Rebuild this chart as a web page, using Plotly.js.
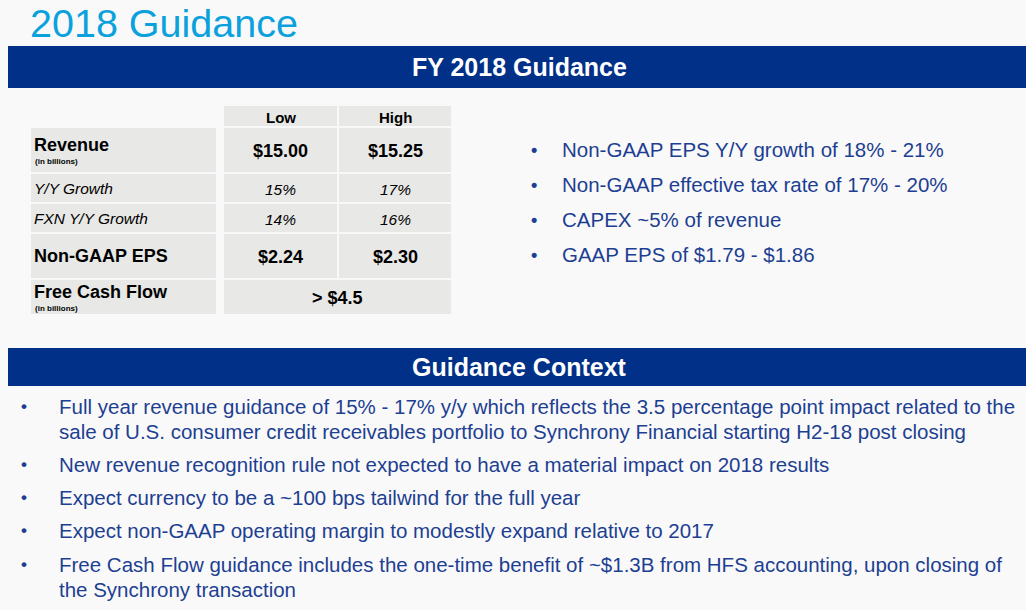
<!DOCTYPE html>
<html><head><meta charset="utf-8">
<script src="https://cdn.plot.ly/plotly-3.0.1.min.js"></script>
<style>html,body{margin:0;padding:0;background:#f9f9f9}#chart{width:1026px;height:610px}</style>
</head><body><div id="chart"></div>
<script>
// ---- content ----
const slideTitle = '2018 Guidance';
const sectionTitles = ['FY 2018 Guidance', 'Guidance Context'];
const columnHeaders = ['Low', 'High'];
const rowLabels = ['Revenue', 'Y/Y Growth', 'FXN Y/Y Growth', 'Non-GAAP EPS', 'Free Cash Flow'];
const rowNotes = ['(in billions)', '', '', '', '(in billions)'];
const lowValues = ['$15.00', '15%', '14%', '$2.24', '> $4.5'];
const highValues = ['$15.25', '17%', '16%', '$2.30', ''];
const guidanceBullets = [
  'Non-GAAP EPS Y/Y growth of 18% - 21%',
  'Non-GAAP effective tax rate of 17% - 20%',
  'CAPEX ~5% of revenue',
  'GAAP EPS of $1.79 - $1.86'
];
const contextBullets = [
  ['Full year revenue guidance of 15% - 17% y/y which reflects the 3.5 percentage point impact related to the',
   'sale of U.S. consumer credit receivables portfolio to Synchrony Financial starting H2-18 post closing'],
  ['New revenue recognition rule not expected to have a material impact on 2018 results'],
  ['Expect currency to be a ~100 bps tailwind for the full year'],
  ['Expect non-GAAP operating margin to modestly expand relative to 2017'],
  ['Free Cash Flow guidance includes the one-time benefit of ~$1.3B from HFS accounting, upon closing of',
   'the Synchrony transaction']
];

// ---- geometry & style ----
const FONT = 'Liberation Sans, Arial, sans-serif';
const NAVY = '#003087';
const TEXTBLUE = '#1d3f92';
const CELL = '#e8e8e6';
const rowTop = [128, 174, 204, 234, 280];
const rowBot = [172, 202, 232, 278, 314];
const rowBold = [true, false, false, true, true];
const rowSize = [18, 15.5, 15.5, 18, 18];
const colLabel = [31, 216], colLow = [224, 337], colHigh = [339, 451];
const headerY = [106, 126];
const guideY = [149.5, 184.5, 219.5, 254.5];
const ctxY = [[406, 431], [464], [497], [530], [564, 589]];

const shapes = [];
const ann = [];
function rect(x0, x1, y0, y1, color) {
  shapes.push({type: 'rect', xref: 'x', yref: 'y', x0, x1, y0, y1, fillcolor: color, line: {width: 0}, layer: 'below'});
}
function text(t, x, y, opt) {
  ann.push(Object.assign({text: t, x, y, xref: 'x', yref: 'y', showarrow: false,
    xanchor: 'left', yanchor: 'middle', font: {family: FONT, size: 18, color: '#000'}}, opt || {}));
}

// title
text(slideTitle, 28, 23, {font: {family: FONT, size: 39.5, color: '#0ba1dd'}});
// banners
rect(8, 1026, 46, 88, NAVY);
rect(8, 1026, 348, 386, NAVY);
text('<b>' + sectionTitles[0] + '</b>', 519, 67, {xanchor: 'center', font: {family: FONT, size: 25, color: '#fff'}});
text('<b>' + sectionTitles[1] + '</b>', 519, 367, {xanchor: 'center', font: {family: FONT, size: 25, color: '#fff'}});

// table header
[colLow, colHigh].forEach((c, i) => {
  rect(c[0], c[1], headerY[0], headerY[1], CELL);
  text('<b>' + columnHeaders[i] + '</b>', (c[0] + c[1]) / 2, 117, {xanchor: 'center', font: {family: FONT, size: 15, color: '#000'}});
});
// table rows
rowLabels.forEach((lab, i) => {
  const y0 = rowTop[i], y1 = rowBot[i], mid = (y0 + y1) / 2;
  const fmt = s => rowBold[i] ? '<b>' + s + '</b>' : '<i>' + s + '</i>';
  rect(colLabel[0], colLabel[1], y0, y1, CELL);
  const hasNote = rowNotes[i] !== '';
  text(fmt(lab), 32, hasNote ? y0 + (i === 0 ? 17 : 12) : mid, {font: {family: FONT, size: rowSize[i], color: '#000'}});
  if (hasNote) text('<b>' + rowNotes[i] + '</b>', 33, y0 + (i === 0 ? 33 : 28), {font: {family: FONT, size: 8, color: '#000'}});
  if (highValues[i] === '') {
    rect(colLow[0], colHigh[1], y0, y1, CELL);
    text(fmt(lowValues[i]), (colLow[0] + colHigh[1]) / 2, mid + 1, {xanchor: 'center', font: {family: FONT, size: rowSize[i], color: '#000'}});
  } else {
    rect(colLow[0], colLow[1], y0, y1, CELL);
    rect(colHigh[0], colHigh[1], y0, y1, CELL);
    text(fmt(lowValues[i]), (colLow[0] + colLow[1]) / 2, mid + 1, {xanchor: 'center', font: {family: FONT, size: rowSize[i], color: '#000'}});
    text(fmt(highValues[i]), (colHigh[0] + colHigh[1]) / 2, mid + 1, {xanchor: 'center', font: {family: FONT, size: rowSize[i], color: '#000'}});
  }
});

// right bullets
guidanceBullets.forEach((b, i) => {
  text('<b>•</b>', 529, guideY[i], {font: {family: FONT, size: 18, color: TEXTBLUE}});
  text(b, 560, guideY[i], {font: {family: FONT, size: 20.5, color: TEXTBLUE}});
});
// context bullets
contextBullets.forEach((lines, i) => {
  text('<b>•</b>', 19, ctxY[i][0], {font: {family: FONT, size: 17, color: TEXTBLUE}});
  lines.forEach((ln, j) => text(ln, 57, ctxY[i][j], {font: {family: FONT, size: 20.5, color: TEXTBLUE}}));
});

const layout = {
  width: 1026, height: 610,
  margin: {l: 0, r: 0, t: 0, b: 0},
  paper_bgcolor: '#f9f9f9', plot_bgcolor: '#f9f9f9',
  xaxis: {range: [0, 1026], visible: false, fixedrange: true},
  yaxis: {range: [610, 0], visible: false, fixedrange: true},
  showlegend: false,
  shapes, annotations: ann
};
Plotly.newPlot('chart', [{x: [], y: [], type: 'scatter', mode: 'markers', hoverinfo: 'skip'}], layout, {staticPlot: true, displayModeBar: false});
</script></body></html>
